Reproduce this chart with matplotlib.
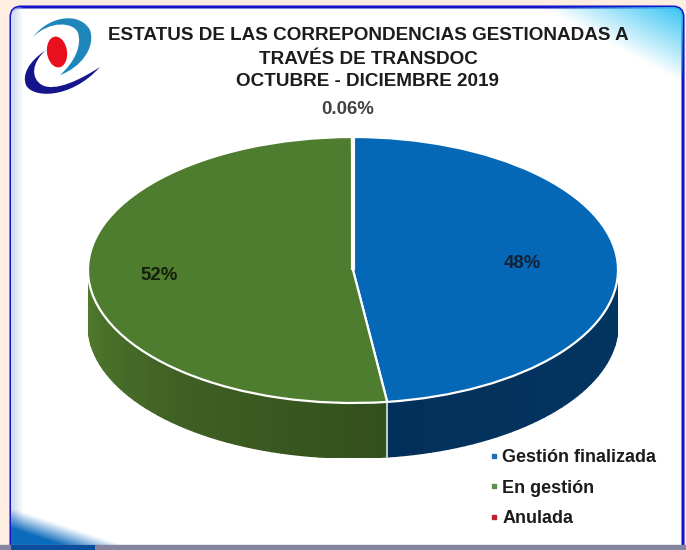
import numpy as np
import matplotlib
matplotlib.use("Agg")
import matplotlib.pyplot as plt
from matplotlib.colors import LinearSegmentedColormap, to_rgb
from matplotlib.lines import Line2D
from matplotlib.patches import Ellipse, FancyBboxPatch, PathPatch
from matplotlib.path import Path

plt.rcParams["font.family"] = ["Liberation Sans", "DejaVu Sans"]

W, H = 686, 550

categories = ["Gestión finalizada", "En gestión", "Anulada"]
values = [47.94, 52.0, 0.06]
pct_labels = ["48%", "52%", "0.06%"]
title_lines = [
    "ESTATUS DE LAS CORREPONDENCIAS GESTIONADAS A",
    "TRAVÉS DE TRANSDOC",
    "OCTUBRE - DICIEMBRE 2019",
]
colors = ["#0568b6", "#4f7d2f", "#c00000"]


def pixel_axes(fig, left, top, right, bottom):
    return fig.add_axes([left / W, 1 - bottom / H, (right - left) / W, (bottom - top) / H])


def corner_gradient(ax, color, p0, p1, clip, solid=0.0):
    # alpha fades from p0 to p1, used for the corner glows of the panel
    yy, xx = np.mgrid[0:H, 0:W]
    d = np.array(p1, float) - np.array(p0, float)
    t = ((xx - p0[0]) * d[0] + (yy - p0[1]) * d[1]) / (d @ d)
    img = np.zeros((H, W, 4))
    img[..., :3] = to_rgb(color)
    img[..., 3] = np.clip((1 - t) / (1 - solid), 0, 1)
    im = ax.imshow(img, extent=(0, W, H, 0), aspect="auto", zorder=2)
    im.set_clip_path(clip)


def swoosh(ax, verts, color):
    codes = [Path.MOVETO] + [Path.CURVE4] * (len(verts) - 1) + [Path.CLOSEPOLY]
    ax.add_patch(PathPatch(Path(verts + [verts[0]], codes), fc=color, ec="none", zorder=4))


fig = plt.figure(figsize=(W / 100, H / 100), dpi=100, facecolor="#fdeee1")

# background panel
bg = fig.add_axes([0, 0, 1, 1])
bg.set_xlim(0, W)
bg.set_ylim(H, 0)
bg.axis("off")
panel = FancyBboxPatch((11, 7), 672, 600, boxstyle="round,pad=0,rounding_size=10",
                       fc="white", ec="#1414c8", lw=2.2, zorder=1)
bg.add_patch(panel)
corner_gradient(bg, "#d5ddf2", (13, 0), (23, 0), panel)
corner_gradient(bg, "#35c4f2", (683, 8), (652, 66), panel)
corner_gradient(bg, "#0a6abb", (13, 545), (24, 512), panel, solid=0.45)
bg.fill_between([0, W], 545, H, color="#85859f", zorder=3)
bg.fill_between([11, 95], 545, H, color="#0a4f9e", lw=0, zorder=3)

# logo
swoosh(bg, [(33, 37), (50, 15), (80, 12), (90, 30), (96, 48), (80, 68), (60, 75),
            (75, 62), (82, 45), (78, 33), (74, 22), (50, 20)], "#1f86bb")
swoosh(bg, [(46, 50), (28, 62), (22, 75), (26, 85), (32, 98), (70, 100), (100, 67),
            (80, 80), (55, 92), (42, 85), (30, 78), (32, 62)], "#14148c")
bg.add_patch(Ellipse((57, 52), 20, 31, angle=-8, fc="#e8101c", ec="none", zorder=5))

# title and labels
for line, y in zip(title_lines, [36, 59, 81]):
    bg.text(368, y, line, ha="center", va="center", fontsize=13.55, fontweight="bold",
            color="#1c1c1c", zorder=6)
bg.text(348, 110, pct_labels[2], ha="center", va="center", fontsize=13.4, color="#222222",
        fontweight="bold", alpha=0.85, zorder=6)

# 3D-looking pie, the unit circle is stretched to the axes box
depth = 55 / 133
ax = pixel_axes(fig, 88, 137, 618, 137 + 266 + 55)
ax.patch.set_alpha(0)
wedges, _ = ax.pie(values, colors=colors, startangle=90, counterclock=False, radius=1,
                   wedgeprops={"edgecolor": "white", "linewidth": 1.6, "zorder": 3})
ax.set_aspect("auto")

bounds = 90 - np.cumsum([0] + values) * 3.6
side_stops = [["#02365f", "#03335f", "#02305a"], ["#33501c", "#3f6023", "#507b2d"], ["#7a0000"] * 3]
for i in range(len(values)):
    theta = np.linspace(bounds[i], bounds[i + 1], 90)
    theta = theta[np.sin(np.radians(theta)) <= 0.001]
    if len(theta) < 2:
        continue
    side_cmap = LinearSegmentedColormap.from_list("side", side_stops[i])
    for k in range(len(theta) - 1):
        a, b = np.radians(theta[k]), np.radians(theta[k + 1])
        xs = [np.cos(a), np.cos(b), np.cos(b), np.cos(a)]
        ys = [np.sin(a), np.sin(b), np.sin(b) - depth, np.sin(a) - depth]
        ax.fill(xs, ys, color=side_cmap(k / (len(theta) - 2)), lw=1.0, zorder=1)

# seam between the two visible side walls
seam = np.radians(bounds[1])
ax.plot([np.cos(seam)] * 2, [np.sin(seam), np.sin(seam) - depth], color="#d8e6e0", lw=1.2, zorder=2)

# lighter lower part on the blue top face
grad = np.linspace(0, 1, 256).reshape(-1, 1)
im = ax.imshow(grad, extent=(-1, 1, -1, 1), origin="upper", aspect="auto", zorder=2.5,
               cmap=LinearSegmentedColormap.from_list("b", ["#0364b3", "#0668b8", "#0b80cf"]))
im.set_clip_path(wedges[0])

# wider white gap where the thin slice sits at the top
ax.plot([0, 0], [0.0, 1.0], color="white", lw=3.0, solid_capstyle="butt", zorder=4)
ax.set_xlim(-1, 1)
ax.set_ylim(-1 - depth, 1)

bg2 = pixel_axes(fig, 0, 0, W, H)
bg2.set_xlim(0, W)
bg2.set_ylim(H, 0)
bg2.axis("off")
bg2.patch.set_alpha(0)
bg2.text(522, 263, pct_labels[0], ha="center", va="center", fontsize=13.4, color="#10233a", fontweight="bold")
bg2.text(159, 276, pct_labels[1], ha="center", va="center", fontsize=13.4, color="#14200c", fontweight="bold")

handles = [Line2D([], [], ls="none", marker="s", ms=3.2, color=c, label=n)
           for n, c in zip(categories, ["#1f6fb5", "#5c8f50", "#c0202c"])]
bg2.legend(handles=handles, loc="upper left", bbox_to_anchor=(487, 449), bbox_transform=bg2.transData,
           frameon=False, prop={"size": 13.0, "weight": "bold"}, labelspacing=0.75,
           handletextpad=0.05, handlelength=0.8, borderpad=0, borderaxespad=0, labelcolor="#1c1c1c")

fig.savefig("out.png", dpi=100)
plt.close(fig)
